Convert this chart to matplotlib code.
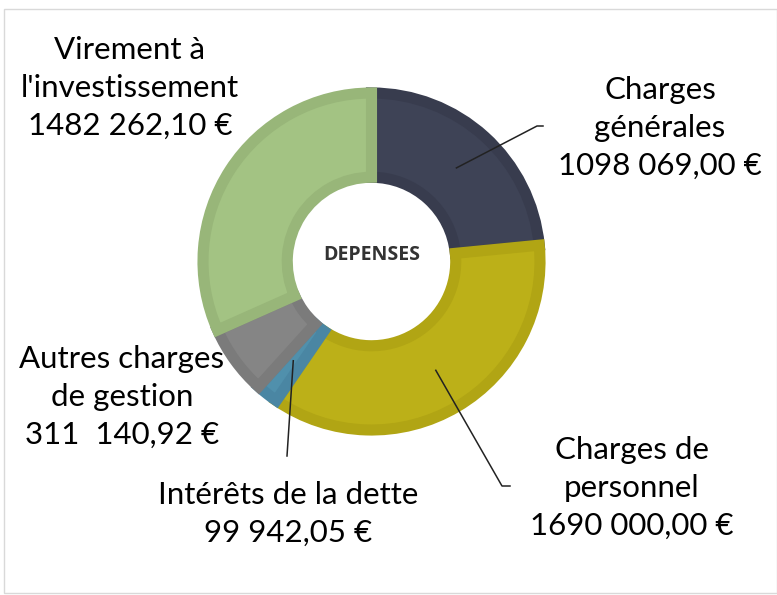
import numpy as np
import matplotlib.pyplot as plt
from matplotlib.patches import Rectangle

# ---------------------------------------------------------------------------
# data
# ---------------------------------------------------------------------------
labels = ["Charges\ngénérales", "Charges de\npersonnel", "Intérêts de la dette",
          "Autres charges\nde gestion", "Virement à\nl'investissement"]
amounts = [1098069.00, 1690000.00, 99942.05, 311140.92, 1482262.10]
amount_text = ["1098 069,00 €", "1690 000,00 €", "99 942,05 €",
               "311  140,92 €", "1482 262,10 €"]
center_title = "DEPENSES"

fills = ["#3e4356", "#bcb018", "#5090ac", "#858585", "#a3c383"]
edges = ["#383c4e", "#b1a514", "#4a86a3", "#7b7b7b", "#98b679"]

# ---------------------------------------------------------------------------
# layout (pixel space, y measured from the bottom)
# ---------------------------------------------------------------------------
W, H = 777, 595
CX, CY, R = 371.5, H - 261.5, 168.5
RING = 0.5

# label centres and leader-line elbows/ends (None = no leader)
label_pos = [(660, H - 128), (632, H - 488), (288, H - 514), (122, H - 397), (130, H - 88)]
leaders = [
    [(537, H - 126), (543, H - 126)],
    [(502, H - 486), (510, H - 486)],
    [(287, H - 456)],
    None,
    None,
]

FONT = ["Lato", "DejaVu Sans"]

fig = plt.figure(figsize=(W / 100, H / 100), dpi=100)
ax = fig.add_axes([0, 0, 1, 1])
ax.set_xlim(0, W)
ax.set_ylim(0, H)
ax.set_aspect("equal")
ax.axis("off")

# light frame round the chart
ax.add_patch(Rectangle((4, 2), W - 4, H - 11, fill=False, ec="#d9d9d9", lw=1))

wedges, _ = ax.pie(
    amounts, colors=fills, startangle=90, counterclock=False,
    center=(CX, CY), radius=R, wedgeprops=dict(width=R * RING, linewidth=0),
)
ax.set_xlim(0, W)
ax.set_ylim(0, H)

# inner stroke: thick edge clipped to the wedge itself
for w, ec in zip(wedges, edges):
    w.set_edgecolor(ec)
    w.set_linewidth(8)
    w.set_clip_path(w)

ax.text(CX, CY + 6, center_title, ha="center", va="center", fontsize=14,
        fontweight="bold", color="#333333", family=["Open Sans", "DejaVu Sans"])

total = sum(amounts)
start = 90.0
for i, amt in enumerate(amounts):
    sweep = 360.0 * amt / total
    mid = np.deg2rad(start - sweep / 2)
    start -= sweep
    tx, ty = label_pos[i]
    ax.text(tx, ty, labels[i] + "\n" + amount_text[i], ha="center", va="center",
            multialignment="center", fontsize=22.5, linespacing=1.42,
            color="black", family=FONT)
    if leaders[i] is not None:
        r = R * 0.75
        pts = [(CX + r * np.cos(mid), CY + r * np.sin(mid))] + leaders[i]
        xs, ys = zip(*pts)
        ax.plot(xs, ys, color="#222222", lw=1.1)

fig.savefig("out.png", dpi=100)
